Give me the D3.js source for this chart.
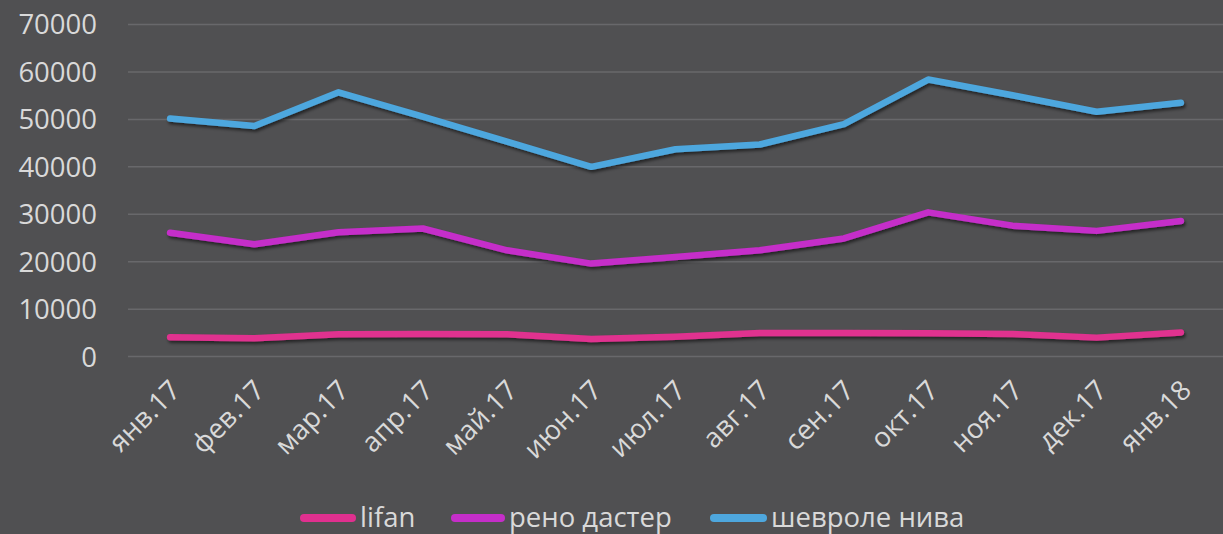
<!DOCTYPE html>
<html><head><meta charset="utf-8">
<script src="https://cdn.jsdelivr.net/npm/d3@7/dist/d3.min.js"></script>
<style>html,body{margin:0;padding:0;background:#505052;overflow:hidden}</style>
</head><body>
<svg id="c" width="1223" height="534"></svg>
<script>
const categories = ["янв.17","фев.17","мар.17","апр.17","май.17","июн.17","июл.17","авг.17","сен.17","окт.17","ноя.17","дек.17","янв.18"];
const lifan = [4100,3850,4700,4750,4700,3700,4200,5000,5000,4900,4750,4000,5100];
const reno = [26100,23700,26200,27000,22400,19600,21000,22400,24900,30400,27600,26500,28600];
const niva = [50200,48600,55700,50600,45300,40000,43700,44700,49000,58400,55100,51600,53500];
const yTicks = [0,10000,20000,30000,40000,50000,60000,70000];
const seriesNames = ["lifan","рено дастер","шевроле нива"];
const seriesColors = ["#e0308f","#c52ec9","#4ea7de"];
const seriesData = [lifan, reno, niva];

(function(){
const svg = d3.select("#c");
const W = 1223, H = 534;
svg.append("rect").attr("width",W).attr("height",H).attr("fill","#505052");

const defs = svg.append("defs");
const f = defs.append("filter").attr("id","sh").attr("x","-5%").attr("y","-20%").attr("width","110%").attr("height","140%");
f.append("feDropShadow").attr("dx",1.5).attr("dy",2.5).attr("stdDeviation",1.8).attr("flood-color","#000").attr("flood-opacity",0.55);

const mLeft = 128, mRight = 1223, mTop = 24.5, mBottom = 356.6;
const x = d3.scalePoint().domain(categories).range([mLeft, mRight]).padding(0.5);
const y = d3.scaleLinear().domain([0,70000]).range([mBottom, mTop]);

const font = "'Open Sans', 'DejaVu Sans', sans-serif";

svg.append("g").selectAll("line").data(yTicks).join("line")
  .attr("x1", mLeft).attr("x2", mRight)
  .attr("y1", d=>y(d)).attr("y2", d=>y(d))
  .attr("stroke","#68686b").attr("stroke-width",1.5);

svg.append("g").selectAll("text").data(yTicks).join("text")
  .attr("x",97).attr("y",d=>y(d)).attr("dy","0.36em")
  .attr("text-anchor","end").attr("fill","#d9d9d9")
  .style("font-family",font).style("font-size","27.5px")
  .text(d=>d);

svg.append("g").selectAll("text").data(categories).join("text")
  .attr("transform", d=>`translate(${x(d)+12},${392}) rotate(-45)`)
  .attr("text-anchor","end").attr("fill","#d9d9d9")
  .style("font-family",font).style("font-size","27.5px")
  .text(d=>d);

const line = d3.line().x((d,i)=>x(categories[i])).y(d=>y(d));
const lg = svg.append("g").attr("filter","url(#sh)");
seriesData.forEach((s,k)=>{
  lg.append("path").datum(s).attr("d",line)
    .attr("fill","none").attr("stroke",seriesColors[k]).attr("stroke-width",6.5)
    .attr("stroke-linecap","round").attr("stroke-linejoin","round");
});

const legSample = [[300,356],[451,505],[710,767]];
const leg = svg.append("g");
seriesNames.forEach((n,k)=>{
  const [a,b] = legSample[k];
  leg.append("line").attr("x1",a+4).attr("x2",b-4).attr("y1",518).attr("y2",518)
    .attr("stroke",seriesColors[k]).attr("stroke-width",8).attr("stroke-linecap","round");
  leg.append("text").attr("x",b+4).attr("y",527)
    .attr("fill","#d9d9d9").style("font-family",font).style("font-size","27.5px").text(n);
});
})();
</script>
</body></html>
